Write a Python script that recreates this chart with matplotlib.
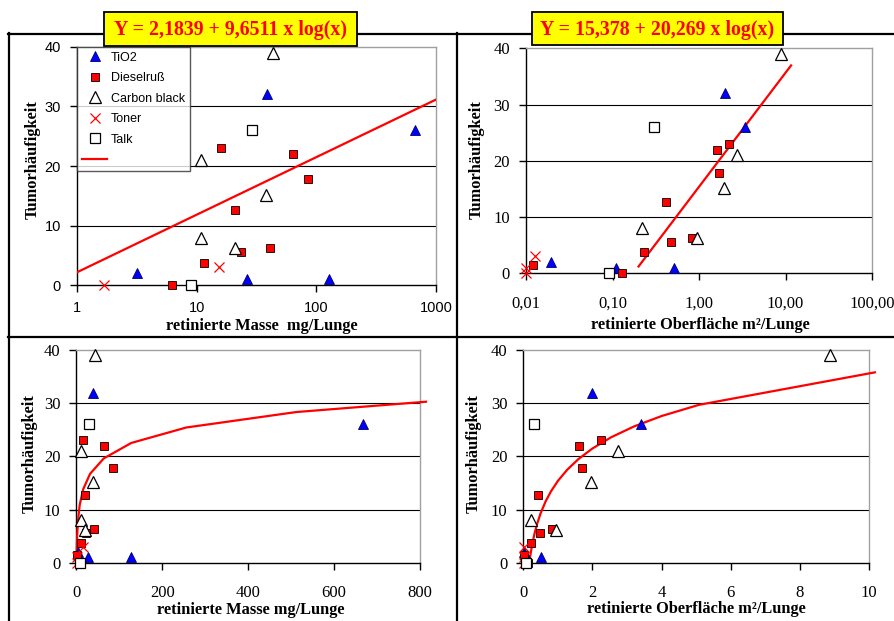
import numpy as np
import matplotlib
matplotlib.use("Agg")
import matplotlib.pyplot as plt
from matplotlib.lines import Line2D
from matplotlib.patches import Rectangle
from matplotlib.ticker import FixedLocator, NullLocator, NullFormatter

# ---------------- data ----------------
tio2_mass = [3.2, 26.5, 38.4, 127, 668]
tio2_surf = [0.0197, 0.109, 1.98, 0.509, 3.40]
tio2_y = [2, 1, 32, 1, 26]

diesel_mass = [0.8, 6.24, 11.5, 16.0, 20.9, 23.6, 40.7, 63.7, 84.5]
diesel_surf = [0.0122, 0.128, 0.231, 2.24, 0.415, 0.474, 0.830, 1.61, 1.70]
diesel_y = [1.4, 0, 3.7, 23, 12.7, 5.5, 6.3, 22, 17.9]

cb_mass = [10.9, 10.9, 20.8, 38.2, 43.4]
cb_surf = [2.75, 0.219, 0.949, 1.96, 8.87]
cb_y = [21, 8, 6.2, 15.2, 39]

toner_mass = [0.5, 1.68, 15.4]
toner_surf = [0.0101, 0.0100, 0.0127]
toner_y = [1, 0, 3]

talk_mass = [9.0, 29.0]
talk_surf = [0.0918, 0.299]
talk_y = [0, 26]

# regression coefficients shown on the chart
mass_a, mass_b = 2.1839, 9.6511
surf_a, surf_b = 15.378, 20.269
mass_eq = "Y = 2,1839 + 9,6511 x log(x)"
surf_eq = "Y = 15,378 + 20,269 x log(x)"

# x vertices of the drawn trend lines
mass_line_x_log = [1, 1000]
surf_line_x_log = [0.2, 11.6]
mass_line_x_lin = [0.6, 1, 2, 4, 8, 16, 32, 64, 128, 256, 512, 814]
surf_line_x_lin = [0.174, 0.2, 0.25, 0.32, 0.4, 0.5, 0.64, 0.8, 1.0, 1.27,
                   1.6, 2.0, 2.54, 3.2, 4.0, 5.08, 10.17]

mass_ticks_log = [1, 10, 100, 1000]
mass_ticklabels_log = ["1", "10", "100", "1000"]
surf_ticks_log = [0.01, 0.1, 1, 10, 100]
surf_ticklabels_log = ["0,01", "0,10", "1,00", "10,00", "100,00"]
y_ticks = [0, 10, 20, 30, 40]
mass_ticks_lin = [0, 200, 400, 600, 800]
surf_ticks_lin = [0, 2, 4, 6, 8, 10]

ylabel = "Tumorhäufigkeit"
label_names = ["TiO2", "Dieselruß", "Carbon black", "Toner", "Talk"]

# ---------------- figure ----------------
W, H = 895, 621
fig = plt.figure(figsize=(W / 100, H / 100), dpi=100)
fig.patch.set_facecolor("white")

SERIF = "Liberation Serif"
SANS = "Liberation Sans"


def fx(x):
    return x / W


def fy(y):
    return 1 - y / H


def add_ax(x0, x1, y0, y1):
    return fig.add_axes([fx(x0), fy(y1), (x1 - x0) / W, (y1 - y0) / H])


styles = {
    "TiO2": dict(marker="^", ms=6.8, mfc="#0000ff", mec="#000060", mew=0.6, ls="none"),
    "Dieselruß": dict(marker="s", ms=5.4, mfc="#ff0000", mec="#000000", mew=0.6, ls="none"),
    "Carbon black": dict(marker="^", ms=8, mfc="white", mec="black", mew=0.9, ls="none"),
    "Toner": dict(marker="x", ms=7.5, mec="#ff0000", mew=0.9, ls="none"),
    "Talk": dict(marker="s", ms=7.5, mfc="white", mec="black", mew=0.9, ls="none"),
}


def style_axes(ax, tick_font, tick_size, xpad, ypad):
    ax.set_ylim(0, 40)
    ax.set_yticks(y_ticks)
    for s in ["top", "right"]:
        ax.spines[s].set_color("#a0a0a0")
        ax.spines[s].set_linewidth(1.0)
    for s in ["left", "bottom"]:
        ax.spines[s].set_color("black")
        ax.spines[s].set_linewidth(1.0)
    for yv in [10, 20, 30]:
        ax.axhline(yv, color="black", lw=0.8, zorder=1)
    ax.tick_params(axis="both", direction="out", length=5, width=1, color="black")
    ax.tick_params(axis="x", pad=xpad)
    ax.tick_params(axis="y", pad=ypad)
    for lab in ax.get_xticklabels() + ax.get_yticklabels():
        lab.set_fontfamily(tick_font)
        lab.set_fontsize(tick_size)


def plot_points(ax, xs_list, clip_min=None):
    ys_list = [tio2_y, diesel_y, cb_y, toner_y, talk_y]
    for name, xs, ys in zip(label_names, xs_list, ys_list):
        xs = np.asarray(xs, float)
        ys = np.asarray(ys, float)
        if clip_min is not None:
            m = xs >= clip_min
            xs, ys = xs[m], ys[m]
        ax.plot(xs, ys, clip_on=False, zorder=4, **styles[name])


# ---- top-left: mass, log ----
ax1 = add_ax(77, 436, 46.7, 285.3)
ax1.set_xscale("log")
ax1.set_xlim(1, 1000)
ax1.xaxis.set_major_locator(FixedLocator(mass_ticks_log))
ax1.xaxis.set_minor_locator(NullLocator())
ax1.xaxis.set_minor_formatter(NullFormatter())
ax1.set_xticklabels(mass_ticklabels_log)
xl = np.array(mass_line_x_log, float)
ax1.plot(xl, mass_a + mass_b * np.log10(xl), color="#ff0000", lw=1.6, zorder=3)
plot_points(ax1, [tio2_mass, diesel_mass, cb_mass, toner_mass, talk_mass], clip_min=1)
style_axes(ax1, SANS, 10.5, 6, 6.5)

handles = [Line2D([], [], **styles[n]) for n in label_names]
handles.append(Line2D([], [], color="#ff0000", lw=1.6))
leg = ax1.legend(handles, label_names + [" "], loc="upper left", bbox_to_anchor=(0, 1),
                 borderaxespad=0, frameon=True, fancybox=False, edgecolor="#303030",
                 prop={"family": SANS, "size": 9}, handlelength=2.0,
                 handletextpad=0.3, labelspacing=0.68, borderpad=0.4, numpoints=1)
leg.get_frame().set_linewidth(1.0)
leg.set_zorder(10)

# ---- top-right: surface, log ----
ax2 = add_ax(526, 872, 48.3, 273.3)
ax2.set_xscale("log")
ax2.set_xlim(0.01, 100)
ax2.xaxis.set_major_locator(FixedLocator(surf_ticks_log))
ax2.xaxis.set_minor_locator(NullLocator())
ax2.xaxis.set_minor_formatter(NullFormatter())
ax2.set_xticklabels(surf_ticklabels_log)
xl = np.array(surf_line_x_log, float)
ax2.plot(xl, surf_a + surf_b * np.log10(xl), color="#ff0000", lw=1.6, zorder=3)
plot_points(ax2, [tio2_surf, diesel_surf, cb_surf, toner_surf, talk_surf])
style_axes(ax2, SERIF, 12, 11, 6.5)

# ---- bottom-left: mass, linear ----
ax3 = add_ax(76.3, 420, 350, 562.7)
ax3.set_xlim(0, 800)
ax3.set_xticks(mass_ticks_lin)
xl = np.array(mass_line_x_lin, float)
ax3.plot(xl, mass_a + mass_b * np.log10(xl), color="#ff0000", lw=1.6, zorder=3, clip_on=False)
plot_points(ax3, [tio2_mass, diesel_mass, cb_mass, toner_mass, talk_mass])
style_axes(ax3, SERIF, 12, 11, 6.5)

# ---- bottom-right: surface, linear ----
ax4 = add_ax(523.3, 869, 350, 562.7)
ax4.set_xlim(0, 10)
ax4.set_xticks(surf_ticks_lin)
xl = np.array(surf_line_x_lin, float)
ax4.plot(xl, surf_a + surf_b * np.log10(xl), color="#ff0000", lw=1.6, zorder=3, clip_on=False)
plot_points(ax4, [tio2_surf, diesel_surf, cb_surf, toner_surf, talk_surf])
style_axes(ax4, SERIF, 12, 11, 6.5)

# ---- axis labels ----
lab_kw = dict(fontfamily=SERIF, fontweight="bold", fontsize=11.8, ha="center", va="center")
fig.text(fx(33), fy(160), ylabel, rotation=90, **lab_kw)
fig.text(fx(477), fy(160), ylabel, rotation=90, **lab_kw)
fig.text(fx(30), fy(454), ylabel, rotation=90, **lab_kw)
fig.text(fx(474), fy(454), ylabel, rotation=90, **lab_kw)
fig.text(fx(262), fy(326), "retinierte Masse  mg/Lunge", **lab_kw)
fig.text(fx(700), fy(325), "retinierte Oberfläche m²/Lunge", **lab_kw)
fig.text(fx(251), fy(610), "retinierte Masse mg/Lunge", **lab_kw)
fig.text(fx(696), fy(609), "retinierte Oberfläche m²/Lunge", **lab_kw)

# ---- panel borders ----
def fline(x0, y0, x1, y1, lw=1.6):
    fig.add_artist(Line2D([fx(x0), fx(x1)], [fy(y0), fy(y1)], color="black", lw=lw,
                          transform=fig.transFigure, zorder=0))

fline(8, 33.5, 895, 33.5)
fline(8.5, 33, 8.5, 621)
fline(457, 33, 457, 621)
fline(8, 336.5, 895, 336.5)

# ---- yellow equation boxes ----
def eq_box(x0, x1, y0, y1, text):
    fig.add_artist(Rectangle((fx(x0), fy(y1)), (x1 - x0) / W, (y1 - y0) / H,
                             transform=fig.transFigure, facecolor="#ffff00",
                             edgecolor="black", lw=1.3, zorder=20))
    fig.text(fx((x0 + x1) / 2), fy((y0 + y1) / 2 + 1), text, color="#ff0000",
             fontfamily=SERIF, fontweight="bold", fontsize=14.3, ha="center",
             va="center", zorder=21)

eq_box(104, 357, 12, 46, mass_eq)
eq_box(532, 783, 12, 45, surf_eq)

fig.savefig("out.png", dpi=100)
